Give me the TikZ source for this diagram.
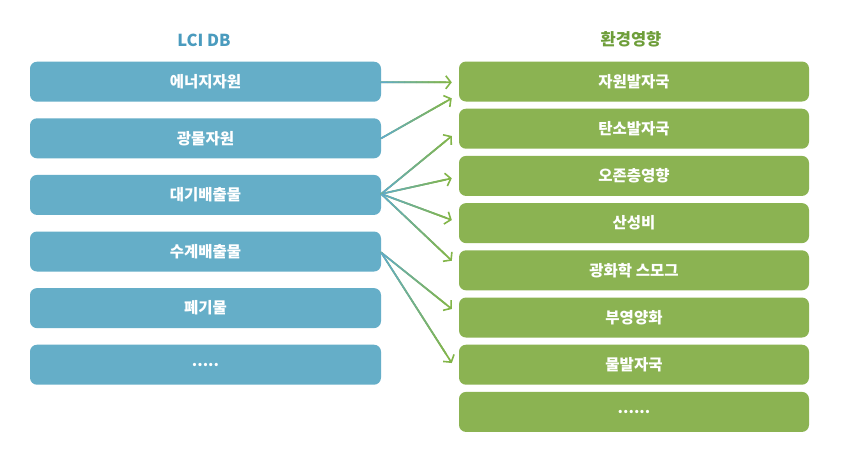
\documentclass[tikz,border=0pt]{standalone}
\usepackage{fontspec}
\setmainfont{Noto Sans CJK KR}
\usetikzlibrary{arrows.meta,calc}
\definecolor{boxblue}{HTML}{65AEC8}
\definecolor{boxgreen}{HTML}{8BB352}
\definecolor{headblue}{HTML}{4A9BBE}
\definecolor{headgreen}{HTML}{6E9E3A}
\definecolor{cblue}{HTML}{60AACC}
\definecolor{cgreen}{HTML}{82B548}
\tikzset{
  lbox/.style={draw=none, fill=boxblue, rounded corners=7pt, minimum width=351pt, minimum height=40pt, inner sep=0pt, text=white, font=\fontsize{15.5}{17}\selectfont\bfseries},
  rbox/.style={draw=none, fill=boxgreen, rounded corners=7pt, minimum width=350pt, minimum height=40pt, inner sep=0pt, text=white, font=\fontsize{15.5}{17}\selectfont\bfseries},
  head/.style={font=\fontsize{16.5}{18}\selectfont\bfseries, inner sep=0pt},
  conn/.style={line width=1.7pt, line cap=round},
  tip/.style={-{Straight Barb[length=5pt,width=13pt,line width=1.6pt]}}
}
\newcommand\gradconn[2]{%
  \draw[conn, tip, color=cgreen] (#1) -- (#2);
  \foreach \i in {0,...,10}{%
    \pgfmathsetmacro\sa{\i/12}%
    \pgfmathsetmacro\sb{(\i+1)/12}%
    \pgfmathtruncatemacro\pc{100-\i*100/11}%
    \draw[conn, color=cblue!\pc!cgreen] ($(#1)!\sa!(#2)$) -- ($(#1)!\sb!(#2)$);
  }%
}
\begin{document}
\begin{tikzpicture}[x=1pt,y=-1pt]
\useasboundingbox[fill=white] (0,0) rectangle (847,456);
\node[head, text=headblue] (hl) at (204,40) {LCI DB};
\node[head, text=headgreen] (hr) at (631,39) {환경영향};

\node[lbox] (l1) at (205.5,81.7) {에너지자원};
\node[lbox] (l2) at (205.5,138.3) {광물자원};
\node[lbox] (l3) at (205.5,194.9) {대기배출물};
\node[lbox] (l4) at (205.5,251.5) {수계배출물};
\node[lbox] (l5) at (205.5,308.1) {폐기물};
\node[lbox] (l6) at (205.5,364.7) {.....};

\node[rbox] (r1) at (634,81.5) {자원발자국};
\node[rbox] (r2) at (634,128.7) {탄소발자국};
\node[rbox] (r3) at (634,175.9) {오존층영향};
\node[rbox] (r4) at (634,223.1) {산성비};
\node[rbox] (r5) at (634,270.3) {광화학 스모그};
\node[rbox] (r6) at (634,317.5) {부영양화};
\node[rbox] (r7) at (634,364.7) {물발자국};
\node[rbox] (r8) at (634,411.9) {......};

\coordinate (s1) at ($(l1.east)+(0,0.5)$);
\coordinate (s2) at (l2.east);
\coordinate (s3) at ($(l3.east)+(0,-1)$);
\coordinate (s4) at ($(l4.east)+(0,1)$);
\coordinate (t1) at ($(r1.west)+(-7,0.8)$);
\coordinate (t2) at ($(r1.west)+(-7,16.8)$);
\coordinate (t3) at ($(r2.west)+(-7,7.3)$);
\coordinate (t4) at ($(r3.west)+(-7,2.4)$);
\coordinate (t5) at ($(r4.west)+(-7,-3.1)$);
\coordinate (t6) at ($(r5.west)+(-7,-9.6)$);
\coordinate (t7) at ($(r6.west)+(-7,-8.5)$);
\coordinate (t8) at ($(r7.west)+(-7,-1.7)$);

\gradconn{s1}{t1}
\gradconn{s2}{t2}
\gradconn{s3}{t3}
\gradconn{s3}{t4}
\gradconn{s3}{t5}
\gradconn{s3}{t6}
\gradconn{s4}{t7}
\gradconn{s4}{t8}
\end{tikzpicture}
\end{document}
